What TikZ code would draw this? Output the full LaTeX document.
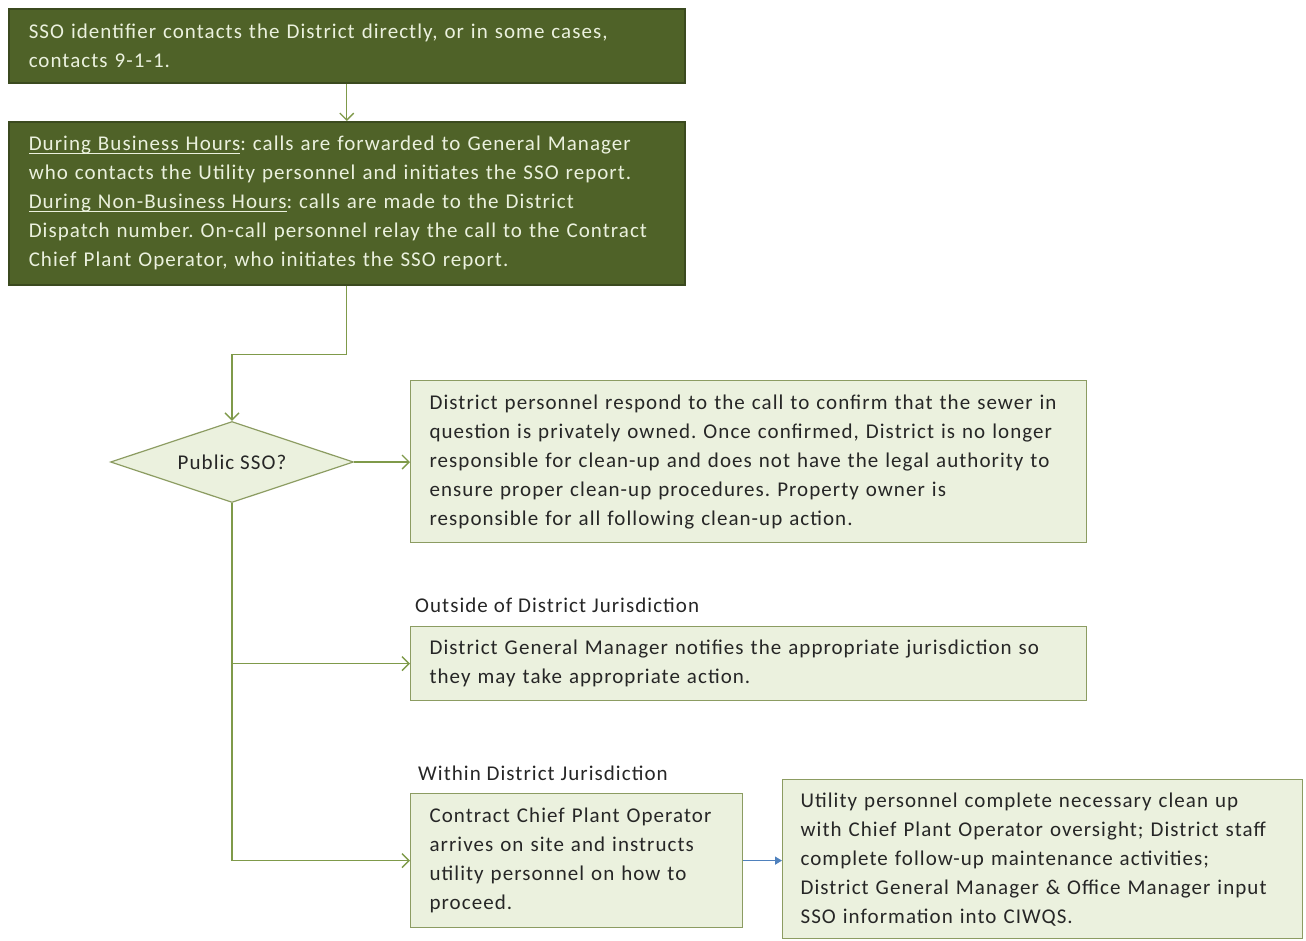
\documentclass[tikz,border=0pt]{standalone}
\usepackage{fontspec}
\setmainfont{Carlito}[LetterSpace=5]
\usetikzlibrary{shapes.geometric,arrows.meta}
\definecolor{darkfill}{HTML}{4F6228}
\definecolor{darkedge}{HTML}{3B4A1F}
\definecolor{lighttext}{HTML}{EBF1DE}
\definecolor{lightfill}{HTML}{EBF1DE}
\definecolor{lightedge}{HTML}{8C9C62}
\definecolor{connc}{HTML}{7F9A4A}
\definecolor{bluec}{HTML}{4F81BD}
\newcommand\myul[1]{\leavevmode\setbox0\hbox{#1}\rlap{\rule[-3pt]{\wd0}{0.9pt}}\box0}
\frenchspacing
\begin{document}
\begin{tikzpicture}[x=1pt,y=-1pt,
  txt/.style={font=\fontsize{21}{29}\selectfont},
  darkbox/.style={draw=darkedge, line width=1.5pt, fill=darkfill, text=lighttext, anchor=north west, align=left, inner xsep=20pt, inner ysep=0pt, txt},
  lightbox/.style={draw=lightedge, line width=1.2pt, fill=lightfill, text=black!85, anchor=north west, align=left, inner xsep=19pt, inner ysep=0pt, txt},
  conn/.style={draw=connc, line width=1.4pt, -{Straight Barb[length=7pt,width=14pt]}},
  lbl/.style={anchor=west, inner sep=0pt, text=black!85, txt}]
\useasboundingbox (0,0) rectangle (1306,940);
\node[darkbox, text width=636pt, minimum height=74pt] (b1) at (8,8)
  {SSO identifier contacts the District directly, or in some cases,\\contacts 9-1-1.};
\node[darkbox, text width=636pt, minimum height=163pt] (b2) at (8,121)
  {\myul{During Business Hours}: calls are forwarded to General Manager\\who contacts the Utility personnel and initiates the SSO report.\\\myul{During Non-Business Hours}: calls are made to the District\\Dispatch number. On-call personnel relay the call to the Contract\\Chief Plant Operator, who initiates the SSO report.};
\node[diamond, aspect=3.5, draw=lightedge, line width=1.2pt, fill=lightfill, minimum width=243pt, minimum height=81pt, inner sep=0pt, text=black!85, txt] (dia) at (232,462) {Public SSO?};
\node[lightbox, text width=638pt, minimum height=162pt] (b3) at (410,380)
  {District personnel respond to the call to confirm that the sewer in\\question is privately owned. Once confirmed, District is no longer\\responsible for clean-up and does not have the legal authority to\\ensure proper clean-up procedures. Property owner is\\responsible for all following clean-up action.};
\node[lbl] (l1) at (415,605) {Outside of District Jurisdiction};
\node[lightbox, text width=638pt, minimum height=74pt] (b4) at (410,626)
  {District General Manager notifies the appropriate jurisdiction so\\they may take appropriate action.};
\node[lbl] (l2) at (418,773) {Within District Jurisdiction};
\node[lightbox, text width=294pt, minimum height=134pt] (b5) at (410,793)
  {Contract Chief Plant Operator\\arrives on site and instructs\\utility personnel on how to\\proceed.};
\node[lightbox, inner xsep=18pt, text width=484pt, minimum height=159pt] (b6) at (782,779)
  {Utility personnel complete necessary clean up\\with Chief Plant Operator oversight; District staff\\complete follow-up maintenance activities;\\District General Manager \& Office Manager input\\SSO information into CIWQS.};
\draw[conn] (b1.south) -- (b2.north);
\draw[conn] (b2.south) -- ++(0,69) -| (dia.north);
\draw[conn] (dia.east) -- (b3.west |- dia.east);
\coordinate (br) at (dia.south |- b4.west);
\draw[conn] (dia.south) |- (b5.west);
\draw[conn] (br) -- (b4.west);
\draw[draw=bluec, line width=1.4pt, -{Triangle[length=7pt,width=8pt]}] (b5.east) -- (b6.west |- b5.east);
\end{tikzpicture}
\end{document}
